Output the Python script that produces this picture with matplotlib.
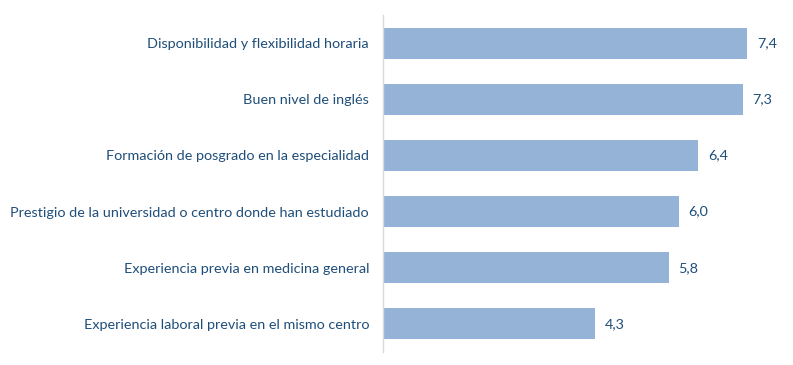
import matplotlib.pyplot as plt

# Datos (de arriba hacia abajo)
categorias = [
    "Disponibilidad y flexibilidad horaria",
    "Buen nivel de inglés",
    "Formación de posgrado en la especialidad",
    "Prestigio de la universidad o centro donde han estudiado",
    "Experiencia previa en medicina general",
    "Experiencia laboral previa en el mismo centro",
]
valores = [7.4, 7.3, 6.4, 6.0, 5.8, 4.3]

color_barra = "#95B3D7"
color_texto = "#1F4E79"

plt.rcParams['font.family'] = ['Lato', 'DejaVu Sans']

fig = plt.figure(figsize=(7.93, 3.65), dpi=100)
ax = fig.add_axes([383 / 793, 13 / 365, 394 / 793, 337 / 365])

pos = list(range(len(categorias)))
ax.barh(pos, valores, height=0.55, color=color_barra)
ax.set_ylim(len(categorias) - 0.5, -0.5)
ax.set_xlim(0, 8)

for p, v in zip(pos, valores):
    ax.text(v + 0.2, p, f"{v:.1f}".replace(".", ","), va="center", ha="left",
            fontsize=10.4, color=color_texto)

ax.set_yticks(pos)
ax.set_yticklabels(categorias, fontsize=10.4, color=color_texto)
ax.tick_params(axis="y", length=0, pad=10)
ax.set_xticks([])
for s in ["top", "right", "bottom"]:
    ax.spines[s].set_visible(False)
ax.spines["left"].set_color("#D9D9D9")
ax.spines["left"].set_linewidth(1)

fig.savefig("out.png", dpi=100)
